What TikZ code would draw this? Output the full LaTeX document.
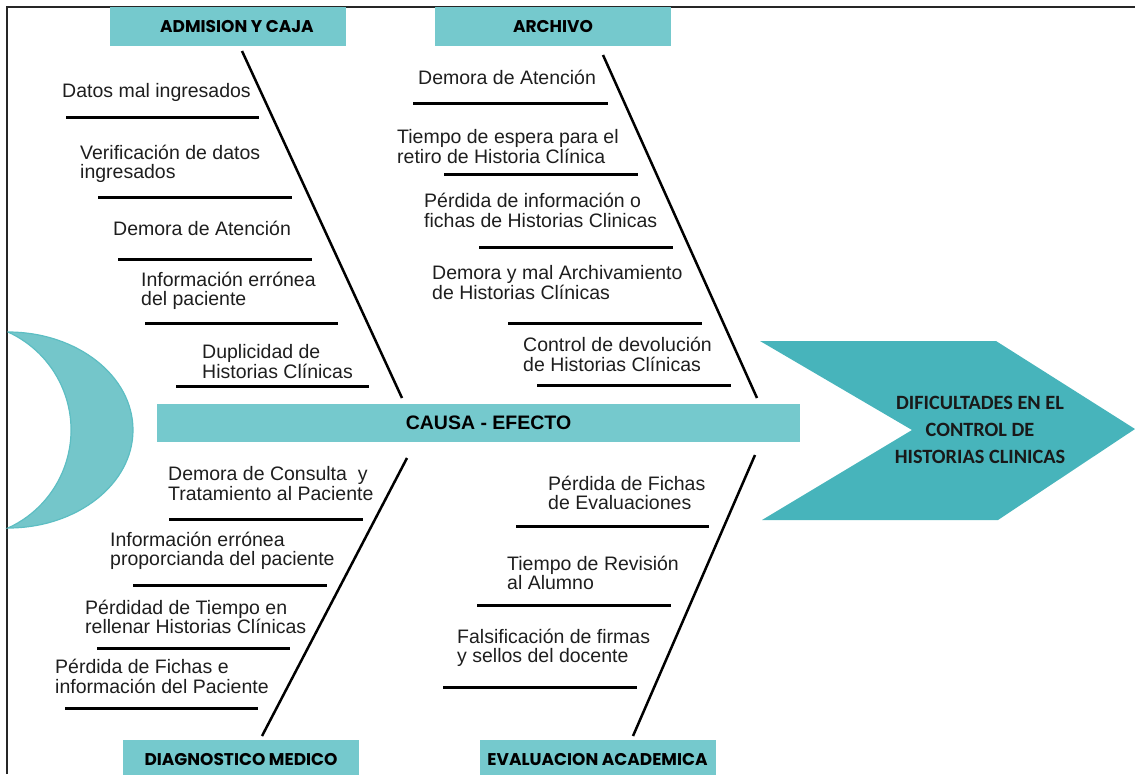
\documentclass[tikz,border=0pt]{standalone}
\usepackage{fontspec}
\usepackage{tikz}
\setmainfont{Liberation Sans}
\newfontfamily\headfont{Poppins}
\newfontfamily\effectfont{Carlito}
\usetikzlibrary{positioning, calc}
\definecolor{fbteal}{HTML}{75C9CD}
\definecolor{fbdark}{HTML}{47B4BB}
\definecolor{fbmoon}{HTML}{74C6CA}
\definecolor{fbmoonline}{HTML}{5DBEC3}
\definecolor{fbtext}{HTML}{1E1E1E}

\begin{document}
\begin{tikzpicture}[
  x=1pt, y=-1pt,
  head/.style={
    rectangle,
    fill=fbteal,
    minimum width=236pt,
    minimum height=39pt,
    inner sep=0pt,
    text=black,
    font=\headfont\bfseries\fontsize{17}{20}\selectfont
  },
  cause/.style={
    anchor=west,
    inner sep=0pt,
    align=left,
    text=fbtext,
    font=\fontsize{19.5}{19.5}\selectfont
  },
  bone/.style={line width=2.5pt, black},
  tick/.style={line width=3pt, black}
]
  \useasboundingbox (0,0) rectangle (1135,774);
  \draw[line width=1.3pt, black!85] (7,774) -- (7,7) -- (1135,7);

  \filldraw[fill=fbmoon, draw=fbmoonline, line width=1.2pt]
    (8,332) arc[start angle=-90, end angle=90, x radius=125, y radius=98]
    arc[start angle=65.5, end angle=-65.5, radius=107.7] -- cycle;

  \fill[fbdark] (760,341) -- (996,341) -- (1135,429) -- (998,520) -- (762,520) -- (912,430) -- cycle;
  \node[align=center, inner sep=0pt, text=black!90, font=\effectfont\bfseries\fontsize{20.3}{27}\selectfont]
    (effect) at (980,430) {DIFICULTADES EN EL\\CONTROL DE\\HISTORIAS CLINICAS};

  \node[rectangle, fill=fbteal, minimum width=643pt, minimum height=38pt, inner sep=0pt,
    font=\bfseries\fontsize{19.5}{20}\selectfont] (spine) at (478.5,423) {\hspace*{20pt}CAUSA - EFECTO};

  \node[head] (adm) at (228,26.5) {\hspace*{18pt}ADMISION Y CAJA};
  \node[head] (arch) at (553,26.5) {ARCHIVO};
  \node[head] (diag) at (241,759.5) {DIAGNOSTICO MEDICO};
  \node[head] (eval) at (597.5,759.5) {EVALUACION ACADEMICA};

  \coordinate (adm-top) at (242,51);
  \coordinate (adm-end) at (402,398);
  \coordinate (arch-top) at (603,55);
  \coordinate (arch-end) at (757,398);
  \coordinate (diag-top) at (407,458);
  \coordinate (diag-end) at (262,736);
  \coordinate (eval-top) at (755,455);
  \coordinate (eval-end) at (633,736);

  \draw[bone] (adm-top) -- (adm-end);
  \draw[bone] (arch-top) -- (arch-end);
  \draw[bone] (diag-top) -- (diag-end);
  \draw[bone] (eval-top) -- (eval-end);

  \node[cause] (adm1) at (62,92) {Datos mal ingresados};
  \node[cause] (adm2) at (80,164) {Verificación de datos\\ingresados};
  \node[cause] (adm3) at (113,228) {Demora de Atención};
  \node[cause] (adm4) at (141,291) {Información errónea\\del paciente};
  \node[cause] (adm5) at (202,361.5) {Duplicidad de\\Historias Clínicas};
  \draw[tick] (66,117) -- (259,117);
  \draw[tick] (98,197) -- (292,197);
  \draw[tick] (118,259) -- (312,259);
  \draw[tick] (145,323) -- (338,323);
  \draw[tick] (176,386) -- (369,386);

  \node[cause] (arch1) at (418,77) {Demora de Atención};
  \node[cause] (arch2) at (397,146.5) {Tiempo de espera para el\\retiro de Historia Clínica};
  \node[cause] (arch3) at (424,210.5) {Pérdida de información o\\fichas de Historias Clinicas};
  \node[cause] (arch4) at (432,282.5) {Demora y mal Archivamiento\\de Historias Clínicas};
  \node[cause] (arch5) at (523,354.5) {Control de devolución\\de Historias Clínicas};
  \draw[tick] (413,103) -- (608,103);
  \draw[tick] (444,174) -- (638,174);
  \draw[tick] (479,247) -- (673,247);
  \draw[tick] (508,323) -- (702,323);
  \draw[tick] (537,385) -- (731,385);

  \node[cause] (diag1) at (168,483.5) {Demora de Consulta\ \ y\\Tratamiento al Paciente};
  \node[cause] (diag2) at (110,551) {Información errónea\\proporcianda del paciente};
  \node[cause] (diag3) at (85,617) {Pérdidad de Tiempo en\\rellenar Historias Clínicas};
  \node[cause] (diag4) at (55,676.5) {Pérdida de Fichas e\\información del Paciente};
  \draw[tick] (169,519) -- (363,519);
  \draw[tick] (133,585) -- (327,585);
  \draw[tick] (97,648) -- (290,648);
  \draw[tick] (65,708) -- (258,708);

  \node[cause] (eval1) at (548,493) {Pérdida de Fichas\\de Evaluaciones};
  \node[cause] (eval2) at (507,573) {Tiempo de Revisión\\al Alumno};
  \node[cause] (eval3) at (457,648) {Falsificación de firmas\\y sellos del docente};
  \draw[tick] (516,526) -- (709,526);
  \draw[tick] (477,605) -- (671,605);
  \draw[tick] (443,687) -- (637,687);
\end{tikzpicture}
\end{document}
